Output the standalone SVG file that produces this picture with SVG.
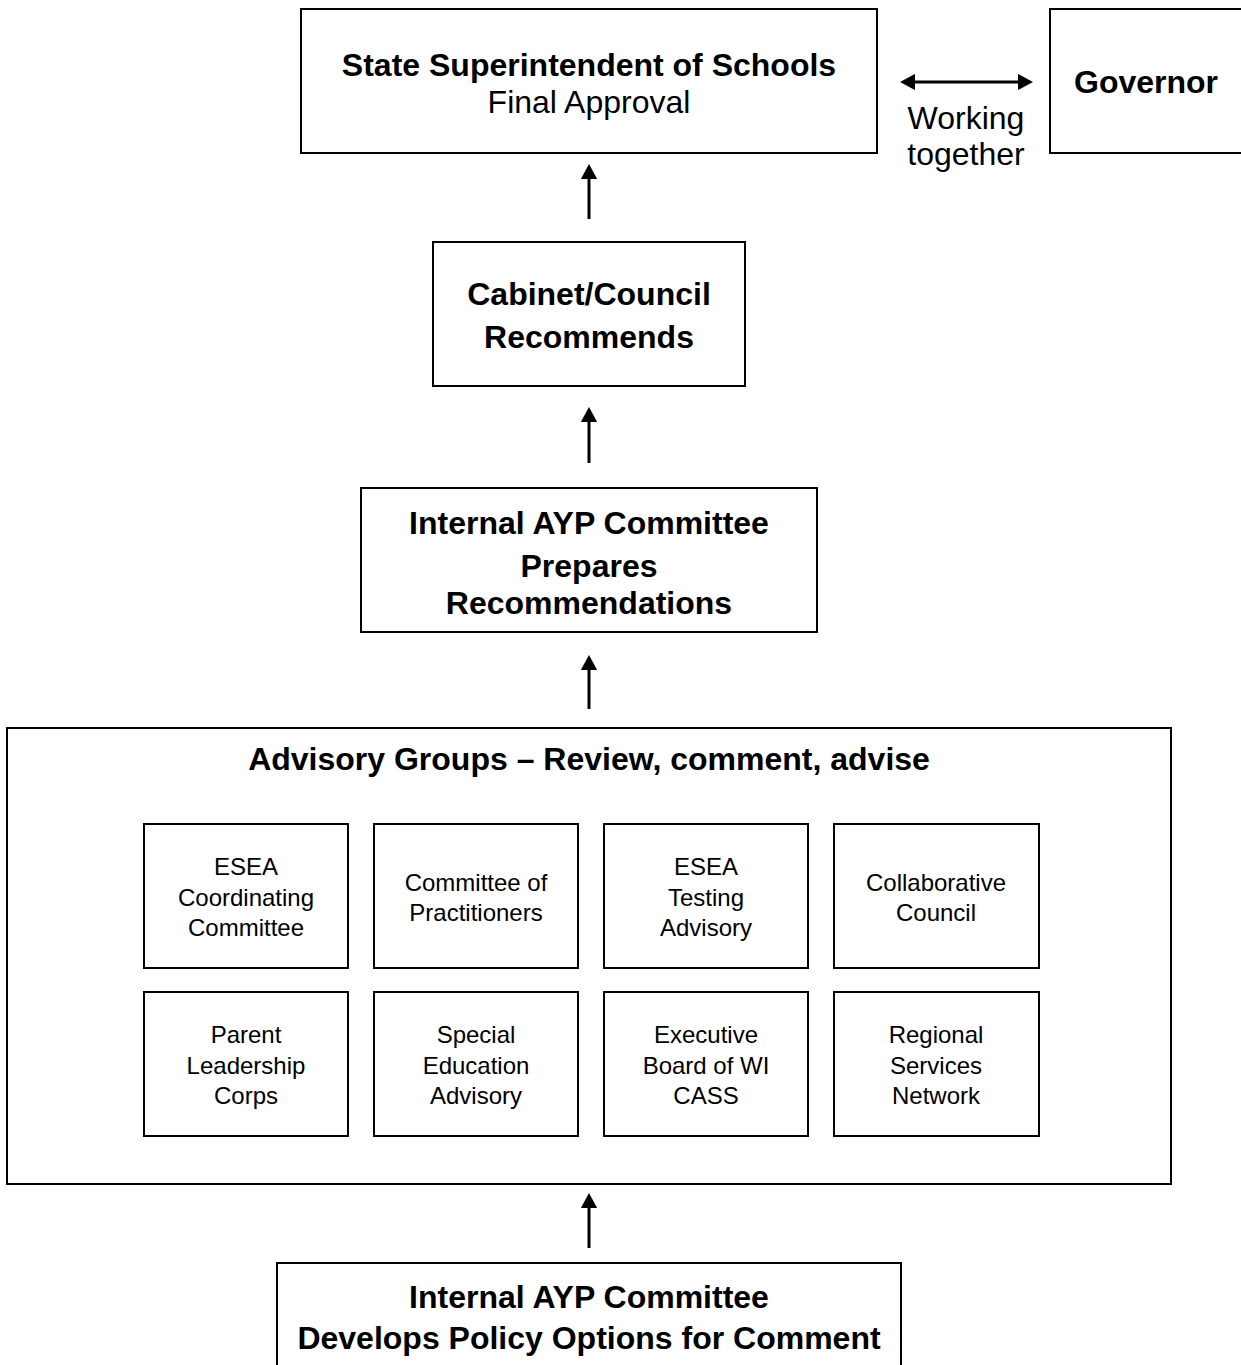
<svg xmlns="http://www.w3.org/2000/svg" width="1241" height="1365" viewBox="0 0 1241 1365">
<style>
.box{fill:#fff;stroke:#000;stroke-width:2}
.b{font-family:"Liberation Sans",Arial,sans-serif;font-weight:bold;font-size:32px;text-anchor:middle;fill:#000}
.r{font-family:"Liberation Sans",Arial,sans-serif;font-size:32px;text-anchor:middle;fill:#000}
.s{font-family:"Liberation Sans",Arial,sans-serif;font-size:24px;text-anchor:middle;fill:#000}
.arr{stroke:#000;stroke-width:3;fill:none}
</style>
<defs>
<marker id="ah" markerWidth="5" markerHeight="5.4" refX="1" refY="2.7" orient="auto-start-reverse" markerUnits="strokeWidth" viewBox="0 0 5 5.4">
<path d="M0,0 L5,2.7 L0,5.4 Z" fill="#000"/>
</marker>
</defs>
<rect width="1241" height="1365" fill="#fff"/>
<g id="superintendent">
<rect class="box" x="301" y="9" width="576" height="144"/>
<text class="b" x="589" y="76">State Superintendent of Schools</text>
<text class="r" x="589" y="113">Final Approval</text>
</g>
<g id="governor">
<rect class="box" x="1050" y="9" width="200" height="144"/>
<text class="b" x="1146" y="93">Governor</text>
</g>
<g id="cabinet">
<rect class="box" x="433" y="242" width="312" height="144"/>
<text class="b" x="589" y="305">Cabinet/Council</text>
<text class="b" x="589" y="348">Recommends</text>
</g>
<g id="internal-prepares">
<rect class="box" x="361" y="488" width="456" height="144"/>
<text class="b" x="589" y="534">Internal AYP Committee</text>
<text class="b" x="589" y="577">Prepares</text>
<text class="b" x="589" y="614">Recommendations</text>
</g>
<g id="advisory">
<rect class="box" x="7" y="728" width="1164" height="456"/>
<text class="b" x="589" y="770">Advisory Groups – Review, comment, advise</text>
</g>
<g id="esea-coord">
<rect class="box" x="144" y="824" width="204" height="144"/>
<text class="s" x="246" y="875">ESEA</text>
<text class="s" x="246" y="906">Coordinating</text>
<text class="s" x="246" y="936">Committee</text>
</g>
<g id="cop">
<rect class="box" x="374" y="824" width="204" height="144"/>
<text class="s" x="476" y="891">Committee of</text>
<text class="s" x="476" y="921">Practitioners</text>
</g>
<g id="esea-testing">
<rect class="box" x="604" y="824" width="204" height="144"/>
<text class="s" x="706" y="875">ESEA</text>
<text class="s" x="706" y="906">Testing</text>
<text class="s" x="706" y="936">Advisory</text>
</g>
<g id="collab">
<rect class="box" x="834" y="824" width="205" height="144"/>
<text class="s" x="936" y="891">Collaborative</text>
<text class="s" x="936" y="921">Council</text>
</g>
<g id="parent">
<rect class="box" x="144" y="992" width="204" height="144"/>
<text class="s" x="246" y="1043">Parent</text>
<text class="s" x="246" y="1074">Leadership</text>
<text class="s" x="246" y="1104">Corps</text>
</g>
<g id="sped">
<rect class="box" x="374" y="992" width="204" height="144"/>
<text class="s" x="476" y="1043">Special</text>
<text class="s" x="476" y="1074">Education</text>
<text class="s" x="476" y="1104">Advisory</text>
</g>
<g id="exec-board">
<rect class="box" x="604" y="992" width="204" height="144"/>
<text class="s" x="706" y="1043">Executive</text>
<text class="s" x="706" y="1074">Board of WI</text>
<text class="s" x="706" y="1104">CASS</text>
</g>
<g id="rsn">
<rect class="box" x="834" y="992" width="205" height="144"/>
<text class="s" x="936" y="1043">Regional</text>
<text class="s" x="936" y="1074">Services</text>
<text class="s" x="936" y="1104">Network</text>
</g>
<g id="internal-develops">
<rect class="box" x="277" y="1263" width="624" height="120"/>
<text class="b" x="589" y="1308">Internal AYP Committee</text>
<text class="b" x="589" y="1349">Develops Policy Options for Comment</text>
</g>
<g id="connectors">
<line class="arr" x1="589" y1="219" x2="589" y2="176" marker-end="url(#ah)"/>
<line class="arr" x1="589" y1="463" x2="589" y2="419" marker-end="url(#ah)"/>
<line class="arr" x1="589" y1="709" x2="589" y2="667" marker-end="url(#ah)"/>
<line class="arr" x1="589" y1="1248" x2="589" y2="1205" marker-end="url(#ah)"/>
<line class="arr" x1="912" y1="82" x2="1021" y2="82" marker-start="url(#ah)" marker-end="url(#ah)"/>
<text class="r" x="966" y="129">Working</text>
<text class="r" x="966" y="165">together</text>
</g>
</svg>
